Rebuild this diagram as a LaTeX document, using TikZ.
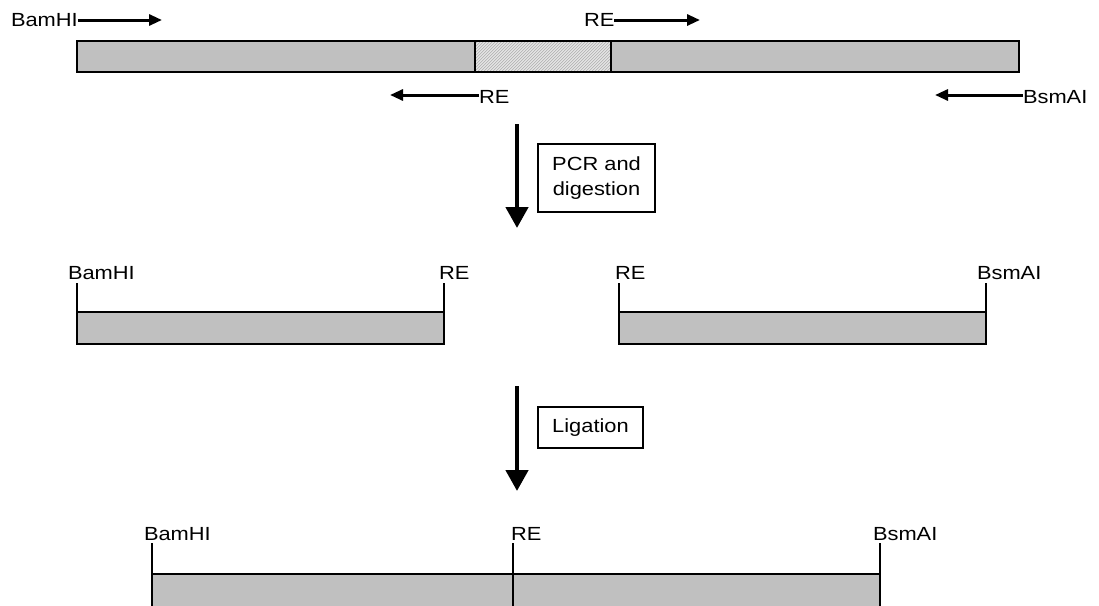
\documentclass[tikz,border=0pt]{standalone}
\usepackage{fontspec}
\setmainfont{Liberation Sans}[FakeStretch=1.15]
\usetikzlibrary{arrows.meta}
\definecolor{barfill}{HTML}{C0C0C0}
\definecolor{hatchline}{HTML}{B4B4B4}
\definecolor{hatchbg}{HTML}{E8E8E8}
\begin{document}
\begin{tikzpicture}[x=1pt,y=-1pt,
  font=\fontsize{19}{25}\selectfont,
  dna/.style={draw=black, line width=1.4pt, fill=barfill, inner sep=0, outer sep=0},
  insert/.style={draw=black, line width=1.4pt, inner sep=0, outer sep=0},
  site/.style={anchor=base west, inner sep=0, outer sep=0},
  primer/.style={line width=3pt, -{Triangle[length=13pt,width=11pt]}},
  sitetick/.style={line width=1.4pt},
  stage/.style={line width=4.5pt, -{Triangle[length=21pt,width=22pt]}},
  stepbox/.style={draw=black, line width=1.1pt, inner sep=0, align=center}]
\useasboundingbox (0,0) rectangle (1099,605);

% template with the central insert (hatched)
\node[dna, minimum width=942, minimum height=31] (tmpl) at (548,56.5) {};
\fill[hatchbg] (475,41) rectangle (611,72);
\begin{scope}
  \clip (475,41) rectangle (611,72);
  \foreach \k in {0,3,...,180}
    \draw[hatchline, line width=0.7pt] (475+\k-40,72) -- ++(31,-31);
\end{scope}
\node[insert, minimum width=136, minimum height=31] (ins) at (543,56.5) {};

% primers
\node[site] (fBam) at (11,27) {BamHI};
\coordinate (fBamTip) at (162,20);
\draw[primer] (fBam.east |- fBamTip) -- (fBamTip);
\node[site] (fRE) at (584,27) {RE};
\coordinate (fRETip) at (700,20);
\draw[primer] (fRE.east |- fRETip) -- (fRETip);
\node[site] (rRE) at (479,103) {RE};
\coordinate (rRETip) at (390,95);
\draw[primer] (rRE.west |- rRETip) -- (rRETip);
\node[site] (rBsm) at (1023,103) {BsmAI};
\coordinate (rBsmTip) at (935,95);
\draw[primer] (rBsm.west |- rBsmTip) -- (rBsmTip);

% step 1
\coordinate (s1a) at (517,124);
\coordinate (s1b) at (517,228);
\draw[stage] (s1a) -- (s1b);
\node[stepbox, minimum width=117, minimum height=68] (pcr) at (596.5,178) {PCR and\\digestion};

% digested fragments
\node[dna, minimum width=367, minimum height=32] (left) at (260.5,328) {};
\node[dna, minimum width=367, minimum height=32] (right) at (802.5,328) {};
\draw[sitetick] (left.south west) -- ++(0,-61) coordinate (lt1);
\draw[sitetick] (left.south east) -- ++(0,-61) coordinate (lt2);
\draw[sitetick] (right.south west) -- ++(0,-61) coordinate (rt1);
\draw[sitetick] (right.south east) -- ++(0,-61) coordinate (rt2);
\node[site] (lBam) at (68,279) {BamHI};
\node[site] (lRE) at (439,279) {RE};
\node[site] (rREm) at (615,279) {RE};
\node[site] (rBsmm) at (977,279) {BsmAI};

% step 2
\coordinate (s2a) at (517,386);
\coordinate (s2b) at (517,491);
\draw[stage] (s2a) -- (s2b);
\node[stepbox, minimum width=105, minimum height=41] (lig) at (590.5,427.5) {Ligation};

% ligated product
\node[dna, minimum width=728, minimum height=40] (prod) at (516,594) {};
\coordinate (pj) at (513,614);
\draw[sitetick] (prod.south west) -- ++(0,-71) coordinate (pt1);
\draw[sitetick] (pj) -- ++(0,-71) coordinate (pt2);
\draw[sitetick] (prod.south east) -- ++(0,-71) coordinate (pt3);
\node[site] (pBam) at (144,540) {BamHI};
\node[site] (pRE) at (511,540) {RE};
\node[site] (pBsm) at (873,540) {BsmAI};
\end{tikzpicture}
\end{document}
